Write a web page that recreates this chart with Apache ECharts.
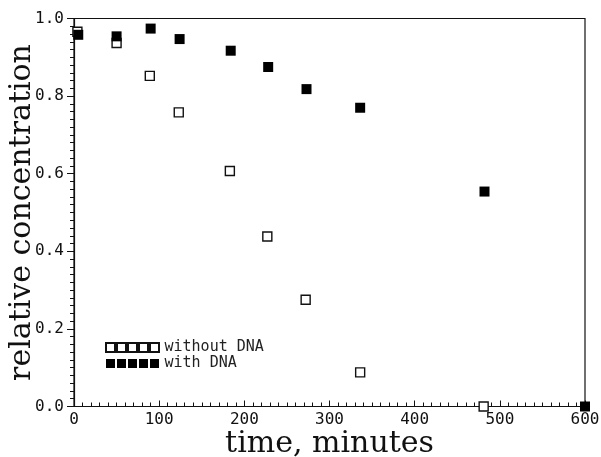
<!DOCTYPE html>
<html><head><meta charset="utf-8">
<script src="https://cdn.jsdelivr.net/npm/echarts@6/dist/echarts.min.js"></script>
<style>html,body{margin:0;padding:0;background:#fff}#c{width:601px;height:457px}</style>
</head><body><div id="c"></div>
<script>
const seriesNames = ['without DNA', 'with DNA'];
const timeWithout = [4, 50, 89, 123, 183, 227, 272, 336, 481];
const valuesWithout = [0.966, 0.937, 0.852, 0.758, 0.607, 0.438, 0.275, 0.088, 0.0];
const timeWith = [5, 50, 90, 124, 184, 228, 273, 336, 482, 600];
const valuesWith = [0.958, 0.954, 0.974, 0.947, 0.917, 0.875, 0.818, 0.770, 0.554, 0.0];
const xTitle = 'time, minutes';
const yTitle = 'relative concentration';

const chart = echarts.init(document.getElementById('c'), null, {renderer: 'canvas'});
const fiveSquares = 'path://M0 0L9 0L9 9L0 9Z M11 0L20 0L20 9L11 9Z M22 0L31 0L31 9L22 9Z M33 0L42 0L42 9L33 9Z M44 0L53 0L53 9L44 9Z';
const mono = 'DejaVu Sans Mono';
const serif = 'DejaVu Serif';
chart.setOption({
  animation: false,
  backgroundColor: '#fff',
  grid: {left: 74, right: 16, top: 18.5, bottom: 50.5, show: true, borderColor: '#111', borderWidth: 1.2, containLabel: false, outerBoundsMode: 'none'},
  legend: {
    orient: 'vertical', left: 100, top: 335, itemWidth: 54, itemHeight: 9, itemGap: 1,
    icon: fiveSquares,
    data: seriesNames.map(n => ({name: n, icon: fiveSquares})),
    textStyle: {fontFamily: mono, fontSize: 15, color: '#222'},
    selectedMode: false
  },
  xAxis: {
    type: 'value', min: 0, max: 600, interval: 100,
    name: xTitle, nameLocation: 'middle', nameGap: 23, nameMoveOverlap: false,
    nameTextStyle: {fontFamily: serif, fontSize: 30, color: '#111'},
    axisLine: {lineStyle: {color: '#111', width: 1.2}},
    axisTick: {inside: true, length: 6, lineStyle: {color: '#111'}},
    minorTick: {show: true, splitNumber: 10, length: 4, lineStyle: {color: '#111'}},
    axisLabel: {fontFamily: mono, fontSize: 16, color: '#111', margin: 5},
    splitLine: {show: false}
  },
  yAxis: {
    type: 'value', min: 0, max: 1, interval: 0.2,
    name: yTitle, nameLocation: 'middle', nameGap: 37, nameMoveOverlap: false,
    nameTextStyle: {fontFamily: serif, fontSize: 30, color: '#111'},
    axisLine: {show: true, lineStyle: {color: '#111', width: 1.2}},
    axisTick: {inside: false, length: 7, lineStyle: {color: '#111'}},
    minorTick: {show: true, splitNumber: 10, length: 4, lineStyle: {color: '#111'}},
    axisLabel: {fontFamily: mono, fontSize: 16, color: '#111', margin: 10, formatter: v => v.toFixed(1)},
    splitLine: {show: false}
  },
  series: [
    {
      name: seriesNames[0], type: 'scatter', symbol: 'rect', symbolSize: 9, clip: false, z: 2,
      itemStyle: {color: '#fff', borderColor: '#111', borderWidth: 1.4, opacity: 1},
      data: timeWithout.map((t, i) => [t, valuesWithout[i]])
    },
    {
      name: seriesNames[1], type: 'scatter', symbol: 'rect', symbolSize: 10, clip: false, z: 3,
      itemStyle: {color: '#000', borderColor: '#000', borderWidth: 0, opacity: 1},
      data: timeWith.map((t, i) => [t, valuesWith[i]])
    }
  ]
});
</script></body></html>
